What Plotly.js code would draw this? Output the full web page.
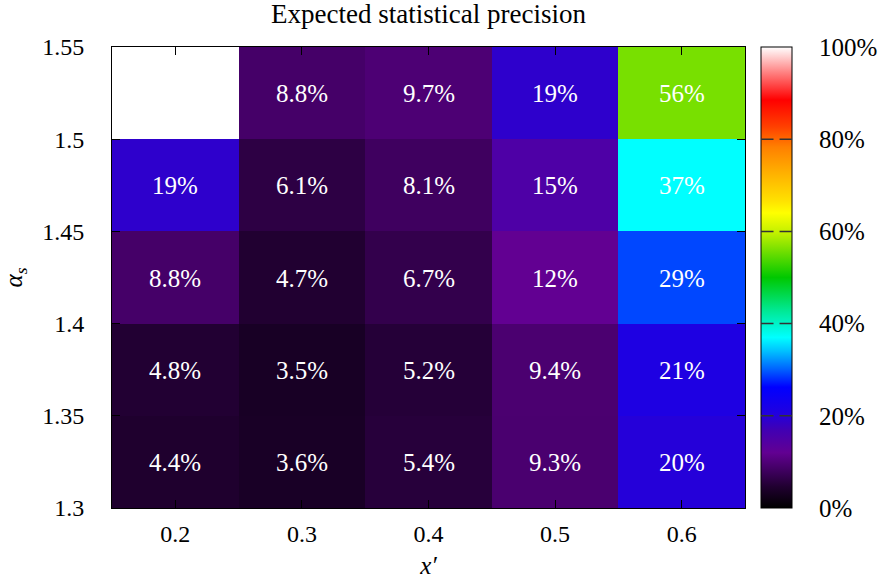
<!DOCTYPE html>
<html>
<head>
<meta charset="utf-8">
<script src="https://cdn.plot.ly/plotly-3.0.1.min.js"></script>
<style>html,body{margin:0;padding:0;background:#fff;}#chart{width:880px;height:581px;}</style>
</head>
<body>
<div id="chart"></div>
<script>
// x' categories (cell centres)
const xVals = [0.2, 0.3, 0.4, 0.5, 0.6];
// alpha_s cell centres (rows, bottom to top)
const yVals = [1.325, 1.375, 1.425, 1.475, 1.525];
// precision values in percent, one row per alpha_s
const row1325 = [4.4, 3.6, 5.4, 9.3, 20];
const row1375 = [4.8, 3.5, 5.2, 9.4, 21];
const row1425 = [8.8, 4.7, 6.7, 12, 29];
const row1475 = [19, 6.1, 8.1, 15, 37];
const row1525 = [null, 8.8, 9.7, 19, 56];
const xTickLabels = ['0.2', '0.3', '0.4', '0.5', '0.6'];
const yTickVals = [1.3, 1.35, 1.4, 1.45, 1.5, 1.55];
const yTickLabels = ['1.3', '1.35', '1.4', '1.45', '1.5', '1.55'];
const cbTickVals = [0, 20, 40, 60, 80, 100];
const cbTickLabels = ['0%', '20%', '40%', '60%', '80%', '100%'];

const z = [row1325, row1375, row1425, row1475, row1525];
const txt = z.map(r => r.map(v => v == null ? '' : v + '%'));

const cscale = [
  [0.000, '#000000'],
  [0.046, '#200030'],
  [0.080, '#3e005e'],
  [0.120, '#620092'],
  [0.170, '#4000b4'],
  [0.206, '#2000e0'],
  [0.262, '#0000ff'],
  [0.300, '#0060ff'],
  [0.340, '#00c0ff'],
  [0.370, '#00ffff'],
  [0.430, '#00e890'],
  [0.500, '#00c800'],
  [0.560, '#78e000'],
  [0.596, '#c0f000'],
  [0.640, '#ffff00'],
  [0.668, '#ffe000'],
  [0.727, '#ffb000'],
  [0.783, '#ff8000'],
  [0.827, '#ff4000'],
  [0.885, '#ff0000'],
  [0.944, '#ff8080'],
  [1.000, '#ffffff']
];

const fontFam = '"Liberation Serif", "DejaVu Serif", serif';

// colorbar geometry in paper units (plot area is the 0..1 span)
const cbX0 = 1.0253, cbW = 0.049;

const trace = {
  type: 'heatmap',
  x: xVals,
  y: yVals,
  z: z,
  text: txt,
  texttemplate: '%{text}',
  textfont: {family: fontFam, size: 25, color: '#ffffff'},
  colorscale: cscale,
  zmin: 0,
  zmax: 100,
  xgap: 0, ygap: 0,
  hoverongaps: false,
  colorbar: {
    x: cbX0, xanchor: 'left', xref: 'paper',
    y: 0.5, yanchor: 'middle', len: 1, lenmode: 'fraction',
    thickness: 31, thicknessmode: 'pixels',
    outlinecolor: '#000', outlinewidth: 1,
    tickvals: cbTickVals, ticktext: cbTickLabels,
    ticks: 'outside', ticklen: 22, tickcolor: 'rgba(0,0,0,0)',
    tickfont: {family: fontFam, size: 25, color: '#000'},
    xpad: 0, ypad: 0
  }
};

// gnuplot-style inward tics on both sides of the colour box
const annotations = [];
cbTickVals.slice(1, -1).forEach(v => {
  const yy = v / 100;
  annotations.push({xref: 'paper', yref: 'paper', x: cbX0, y: yy, text: '', showarrow: true, arrowhead: 0, arrowwidth: 1.5, arrowcolor: '#333', ax: 14, ay: 0, standoff: 0, startstandoff: 0});
  annotations.push({xref: 'paper', yref: 'paper', x: cbX0 + cbW, y: yy, text: '', showarrow: true, arrowhead: 0, arrowwidth: 1.5, arrowcolor: '#333', ax: -14, ay: 0, standoff: 0, startstandoff: 0});
});

const layout = {
  width: 880, height: 581,
  margin: {l: 112, r: 135, t: 47, b: 73, pad: 0, autoexpand: false},
  paper_bgcolor: '#fff',
  plot_bgcolor: '#fff',
  font: {family: fontFam, size: 24, color: '#000'},
  annotations: annotations,
  title: {
    text: 'Expected statistical precision',
    font: {family: fontFam, size: 27, color: '#000'},
    x: 0.5, xref: 'paper', xanchor: 'center',
    y: 0.976, yref: 'container', yanchor: 'middle'
  },
  xaxis: {
    range: [0.15, 0.65],
    tickvals: xVals, ticktext: xTickLabels,
    ticks: 'inside', ticklen: 8, tickcolor: '#000',
    showline: true, linecolor: '#000', linewidth: 1, mirror: 'ticks',
    showgrid: false, zeroline: false,
    ticklabelstandoff: 4,
    tickfont: {family: fontFam, size: 24, color: '#000'},
    title: {text: '<i>x′</i>', font: {family: fontFam, size: 25, color: '#000'}, standoff: 10}
  },
  yaxis: {
    range: [1.3, 1.55],
    tickvals: yTickVals, ticktext: yTickLabels,
    ticks: 'inside', ticklen: 8, tickcolor: '#000',
    showline: true, linecolor: '#000', linewidth: 1, mirror: 'ticks',
    showgrid: false, zeroline: false,
    ticklabelstandoff: 22,
    tickfont: {family: fontFam, size: 24, color: '#000'},
    title: {text: '<i>α<sub>s</sub></i>', font: {family: fontFam, size: 25, color: '#000'}, standoff: 12}
  }
};

Plotly.newPlot('chart', [trace], layout, {displayModeBar: false, staticPlot: true});
</script>
</body>
</html>
